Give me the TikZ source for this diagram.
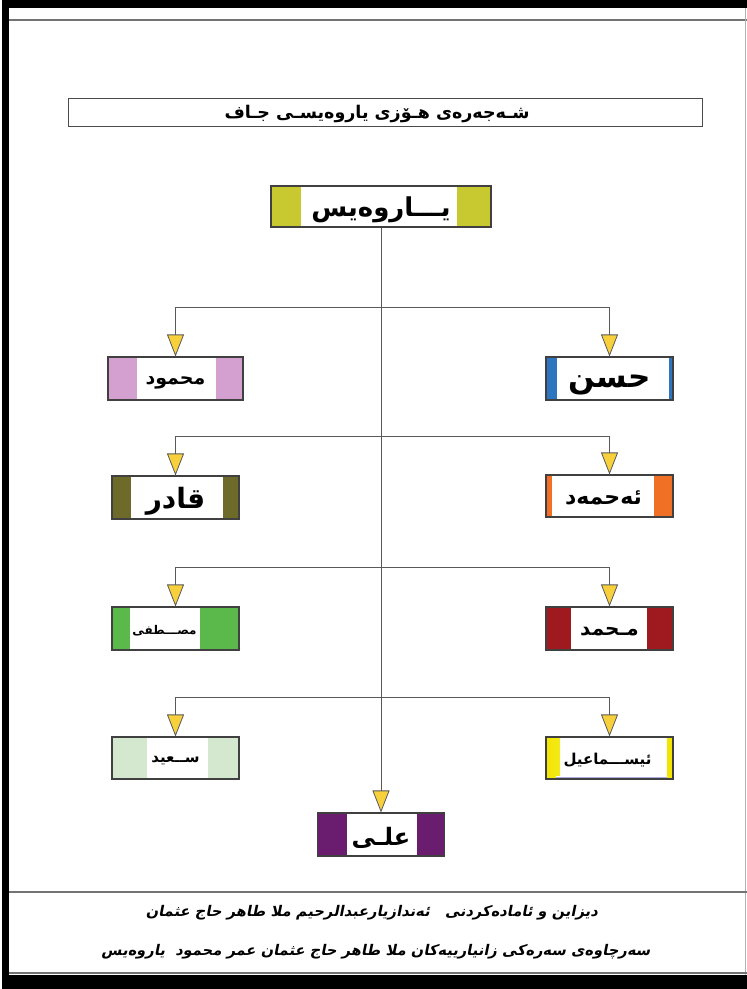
\documentclass[tikz,border=0pt]{standalone}
\usepackage{fontspec}
\usetikzlibrary{arrows.meta}
\TeXXeTstate=1
\newfontfamily\arabicfont[Script=Arabic]{DejaVu Sans}
\newfontfamily\arabicfoot[Script=Arabic,FakeSlant=0.2]{DejaVu Sans}
\definecolor{arrowy}{HTML}{F7D03C}
\definecolor{topc}{HTML}{C8C830}
\definecolor{pinkc}{HTML}{D4A0D0}
\definecolor{bluec}{HTML}{2E75C0}
\definecolor{olivec}{HTML}{6E6B2A}
\definecolor{orangec}{HTML}{F07025}
\definecolor{greenc}{HTML}{5BB84B}
\definecolor{redc}{HTML}{9E1A1E}
\definecolor{lgreenc}{HTML}{D4E8D0}
\definecolor{ismy}{HTML}{F2E600}
\definecolor{purplec}{HTML}{6A1C6E}
\tikzset{
  fam/.style={draw=black!75,line width=1.1pt,fill=white,inner sep=0pt,
    minimum height=43pt,minimum width=127pt,font=\arabicfont\bfseries},
  bars/.style n args={3}{path picture={
    \fill[#3] (path picture bounding box.north west) rectangle ([xshift=#1 pt]path picture bounding box.south west);
    \fill[#3] (path picture bounding box.north east) rectangle ([xshift=-#2 pt]path picture bounding box.south east);}},
  conn/.style={draw=black!65,line width=0.9pt},
  arr/.style={conn,-{Triangle[width=17pt,length=22pt,fill=arrowy,line width=0.8pt]}},
}
\newcommand{\fs}[1]{\fontsize{#1}{#1}\selectfont}
\newcommand{\nm}[3][0.15em]{{\fs{#2}\raisebox{-#1}[\height][\depth]{\beginR #3\endR}}}
\begin{document}
\begin{tikzpicture}[x=1pt,y=-1pt]
\useasboundingbox (0,0) rectangle (747,989);
% frame
\fill[white] (0,0) rectangle (747,989);
\fill[black] (2,0) rectangle (747,8);
\fill[black] (2,0) rectangle (9,989);
\fill[black] (2,975) rectangle (747,989);
\draw[black!55,line width=1.6pt] (9,20) -- (747,20);
\draw[black!30,line width=0.8pt] (745,8) -- (745,975);
\draw[black!55,line width=1.4pt] (9,892) -- (747,892);
\draw[black!55,line width=1.4pt] (9,973) -- (747,973);
% title
\node[draw=black!70,line width=1pt,minimum width=634pt,minimum height=28pt,inner sep=0pt,font=\arabicfont\bfseries]
  (title) at (385,112) {\hspace*{-16pt}\fs{17.5}\raisebox{-0.1em}[\height][\depth]{\beginR شـەجەرەی هـۆزی یاروەیسـی جـاف\endR}};
% nodes
\node[fam,minimum width=220pt,minimum height=41pt,bars={30}{34}{topc}] (top) at (381,206.5) {\nm[0.12em]{26}{یـــاروەیس}};
\node[fam,minimum width=135pt,bars={29}{27}{pinkc}] (mahmud) at (175.5,378.5) {\nm[0.25em]{19}{محمود}};
\node[fam,bars={11}{4}{bluec}] (hasan) at (609.5,378.5) {\nm[0.2em]{31}{حسن}};
\node[fam,bars={19}{16}{olivec}] (qadir) at (175.5,497.5) {\nm[0.12em]{28}{قادر}};
\node[fam,minimum height=42pt,bars={6}{19}{orangec}] (ahmad) at (609.5,496) {\hspace*{-12pt}\nm[0.08em]{22}{ئەحمەد}};
\node[fam,bars={18}{39}{greenc}] (mustafa) at (175.5,628.5) {\hspace*{-22pt}\nm{12}{مصـــطفى}};
\node[fam,bars={25}{26}{redc}] (muhammad) at (609.5,628.5) {\nm{20}{مـحمد}};
\node[fam,minimum height=42pt,bars={35}{31}{lgreenc}] (said) at (175.5,758) {\nm{15}{ســعید}};
\node[fam,minimum height=42pt,path picture={
    \shade[left color=ismy,right color=white] (path picture bounding box.north west) rectangle ([xshift=14pt]path picture bounding box.south west);
    \fill[ismy] (path picture bounding box.north east) rectangle ([xshift=-6pt]path picture bounding box.south east);
    \shade[top color=white,bottom color=blue!60!black] ([xshift=10pt,yshift=3pt]path picture bounding box.south west) rectangle ([xshift=-6pt]path picture bounding box.south east);}]
  (ismail) at (609.5,758) {\hspace*{-4pt}\nm{15}{ئیســـماعیل}};
\node[fam,bars={29}{28}{purplec}] (ali) at (381,834.5) {\nm{24}{علـی}};
% connectors
\coordinate (j1) at (381,307);
\coordinate (j2) at (381,436);
\coordinate (j3) at (381,567);
\coordinate (j4) at (381,697);
\draw[arr] (top.south) -- (ali.north);
\draw[arr] (j1) -| (mahmud.north);
\draw[arr] (j1) -| (hasan.north);
\draw[arr] (j2) -| (qadir.north);
\draw[arr] (j2) -| (ahmad.north);
\draw[arr] (j3) -| (mustafa.north);
\draw[arr] (j3) -| (muhammad.north);
\draw[arr] (j4) -| (said.north);
\draw[arr] (j4) -| (ismail.north);
% footer
\node (foot1) at (372,913) {\arabicfoot\bfseries\fs{14.7}\beginR دیزاین و ئامادەکردنی \ \ ئەندازیارعبدالرحیم ملا طاهر حاج عثمان\endR};
\node (foot2) at (376,952) {\arabicfoot\bfseries\fs{14.7}\beginR سەرچاوەی سەرەکی زانیارییەکان ملا طاهر حاج عثمان عمر محمود \ یاروەیس\endR};
\end{tikzpicture}
\end{document}
